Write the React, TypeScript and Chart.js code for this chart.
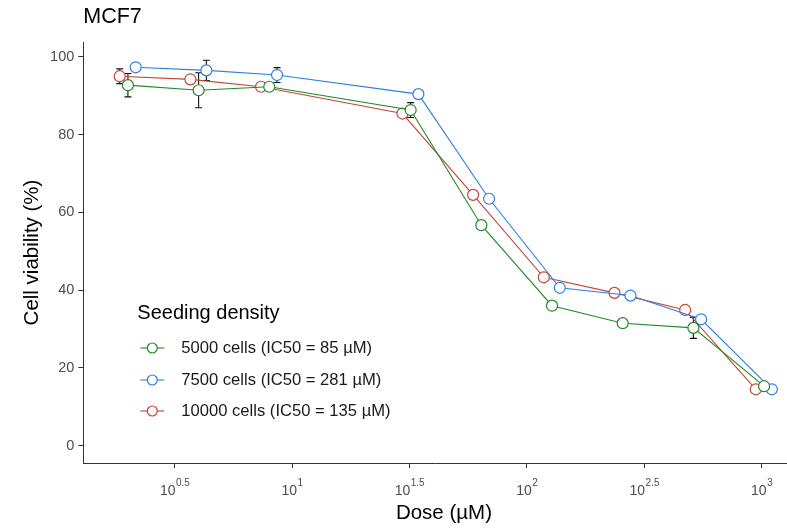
import React, { useEffect, useRef } from 'react';
import { Chart, registerables } from 'chart.js';

Chart.register(...registerables);

// ---- data ----
const doses = [2, 4, 8, 32, 64, 128, 256, 512, 1024];
const seriesLabels = [
  '5000 cells (IC50 = 85 µM)',
  '7500 cells (IC50 = 281 µM)',
  '10000 cells (IC50 = 135 µM)',
];
const via5000 = [92.7, 91.4, 92.3, 86.3, 56.7, 36.0, 31.5, 30.3, 15.3];
const sd5000 = [3.0, 4.5, 0.8, 1.9, 1.0, 1.0, 0.8, 2.7, 0.8];
const via7500 = [97.3, 96.5, 95.3, 90.4, 63.5, 40.6, 38.6, 32.5, 14.5];
const sd7500 = [1.0, 2.6, 1.9, 0.8, 1.0, 0.8, 0.8, 1.0, 0.8];
const via10000 = [95.0, 94.2, 92.3, 85.4, 64.5, 43.3, 39.3, 34.9, 14.5];
const sd10000 = [1.9, 0.8, 0.8, 1.0, 1.0, 0.8, 0.8, 1.0, 0.8];
const yTicks = [0, 20, 40, 60, 80, 100];
const xTickExps = [0.5, 1, 1.5, 2, 2.5, 3];
const legendTitle = 'Seeding density';
const chartTitle = 'MCF7';
const xTitle = 'Dose (µM)';
const yTitle = 'Cell viability (%)';

// ---- styles ----
const FONT = '"Liberation Sans", Arial, sans-serif';
const colors = ['#1F8B24', '#2E7FE0', '#C2473A'];
const dodge = [0, 0.033, -0.035]; // position dodge in log10 units
const values = [via5000, via7500, via10000];
const sds = [sd5000, sd7500, sd10000];
const panelRightExp = 3.183; // full (cropped) panel extent used to centre the x title

const errorBarPlugin = {
  id: 'errorBars',
  beforeDatasetsDraw(chart: any) {
    const ctx = chart.ctx;
    const y = chart.scales.y;
    ctx.save();
    ctx.strokeStyle = '#111';
    ctx.lineWidth = 1.1;
    chart.data.datasets.forEach((ds: any, di: number) => {
      const meta = chart.getDatasetMeta(di);
      meta.data.forEach((pt: any, i: number) => {
        const v = values[di][i];
        const s = sds[di][i];
        const yt = y.getPixelForValue(v + s);
        const yb = y.getPixelForValue(v - s);
        const x = pt.x;
        ctx.beginPath();
        ctx.moveTo(x, yt);
        ctx.lineTo(x, yb);
        ctx.moveTo(x - 3.5, yt);
        ctx.lineTo(x + 3.5, yt);
        ctx.moveTo(x - 3.5, yb);
        ctx.lineTo(x + 3.5, yb);
        ctx.stroke();
      });
    });
    ctx.restore();
  },
};

const customTextPlugin = {
  id: 'customText',
  afterDraw(chart: any) {
    const ctx = chart.ctx;
    const xs = chart.scales.x;
    const area = chart.chartArea;
    ctx.save();
    // x tick labels as 10^exp
    ctx.fillStyle = '#4D4D4D';
    ctx.textBaseline = 'middle';
    ctx.textAlign = 'left';
    xTickExps.forEach((e) => {
      const px = xs.getPixelForValue(Math.pow(10, e));
      const base = '10';
      const exp = String(e);
      ctx.font = `14px ${FONT}`;
      const wb = ctx.measureText(base).width;
      ctx.font = `10px ${FONT}`;
      const we = ctx.measureText(exp).width;
      const left = px - (wb + we) / 2;
      ctx.font = `14px ${FONT}`;
      ctx.fillText(base, left, area.bottom + 28);
      ctx.font = `10px ${FONT}`;
      ctx.fillText(exp, left + wb + 0.5, area.bottom + 20);
    });

    // x axis title, centred on the full panel
    const pr = xs.getPixelForValue(Math.pow(10, panelRightExp));
    ctx.fillStyle = '#000';
    ctx.textAlign = 'center';
    ctx.font = `20.5px ${FONT}`;
    ctx.fillText(xTitle, (area.left + pr) / 2, area.bottom + 50);

    // legend inside the panel
    ctx.textAlign = 'left';
    const lx = area.left + 54;
    ctx.fillStyle = '#000';
    ctx.font = `20px ${FONT}`;
    ctx.textBaseline = 'middle';
    ctx.fillText(legendTitle, lx, 313);
    const rows = [348, 380, 411];
    seriesLabels.forEach((lab, i) => {
      const cy = rows[i];
      ctx.strokeStyle = colors[i];
      ctx.lineWidth = 1.1;
      ctx.beginPath();
      ctx.moveTo(lx + 3, cy);
      ctx.lineTo(lx + 27, cy);
      ctx.stroke();
      ctx.beginPath();
      ctx.arc(lx + 15, cy, 5, 0, Math.PI * 2);
      ctx.fillStyle = '#fff';
      ctx.fill();
      ctx.lineWidth = 1.2;
      ctx.stroke();
      ctx.fillStyle = '#1A1A1A';
      ctx.font = `16.6px ${FONT}`;
      ctx.fillText(lab, lx + 44, cy);
    });
    ctx.restore();
  },
};

export default function App() {
  const ref = useRef<HTMLCanvasElement | null>(null);

  useEffect(() => {
    if (!ref.current) return;
    const datasets = values.map((vals, di) => ({
      label: seriesLabels[di],
      data: vals.map((v, i) => ({ x: doses[i] * Math.pow(10, dodge[di]), y: v })),
      borderColor: colors[di],
      borderWidth: 1.1,
      backgroundColor: colors[di],
      pointBackgroundColor: '#ffffff',
      pointBorderColor: colors[di],
      pointBorderWidth: 1.2,
      pointRadius: 5.5,
      tension: 0,
      fill: false,
    }));

    const chart = new Chart(ref.current, {
      type: 'line',
      data: { datasets },
      options: {
        responsive: false,
        animation: false,
        events: [],
        layout: { autoPadding: false, padding: { left: 0, right: 0, top: 0, bottom: 0 } },
        plugins: {
          legend: { display: false },
          tooltip: { enabled: false },
          title: {
            display: true,
            text: chartTitle,
            align: 'start',
            fullSize: false,
            color: '#000',
            font: { family: FONT, size: 21.5, weight: 'normal' },
            padding: { top: 4, bottom: 12.2 },
          },
        },
        scales: {
          x: {
            type: 'logarithmic',
            min: Math.pow(10, 0.111),
            max: Math.pow(10, 3.108),
            afterBuildTicks: (s: any) => {
              s.ticks = xTickExps.map((e) => ({ value: Math.pow(10, e) }));
            },
            afterFit: (s: any) => {
              s.height = 65;
            },
            ticks: { display: false },
            grid: { drawOnChartArea: false, drawTicks: true, tickLength: 5, color: '#333', lineWidth: 1 },
            border: { display: true, color: '#333', width: 1 },
            title: { display: false },
          },
          y: {
            type: 'linear',
            min: -4.45,
            max: 103.8,
            afterBuildTicks: (s: any) => {
              s.ticks = yTicks.map((v) => ({ value: v }));
            },
            afterFit: (s: any) => {
              s.width = 83.3;
            },
            ticks: { color: '#4D4D4D', font: { family: FONT, size: 14.5 }, padding: 4 },
            grid: { drawOnChartArea: false, drawTicks: true, tickLength: 5, color: '#333', lineWidth: 1 },
            border: { display: true, color: '#333', width: 1 },
            title: {
              display: true,
              text: yTitle,
              color: '#000',
              font: { family: FONT, size: 20.5 },
              padding: { top: 19.7, bottom: 0 },
            },
          },
        },
      } as any,
      plugins: [errorBarPlugin, customTextPlugin],
    });
    return () => chart.destroy();
  }, []);

  return (
    <div style={{ position: 'fixed', left: 0, top: 0, width: 787, height: 528, background: '#fff' }}>
      <canvas ref={ref} width={787} height={528} style={{ display: 'block' }} />
    </div>
  );
}
